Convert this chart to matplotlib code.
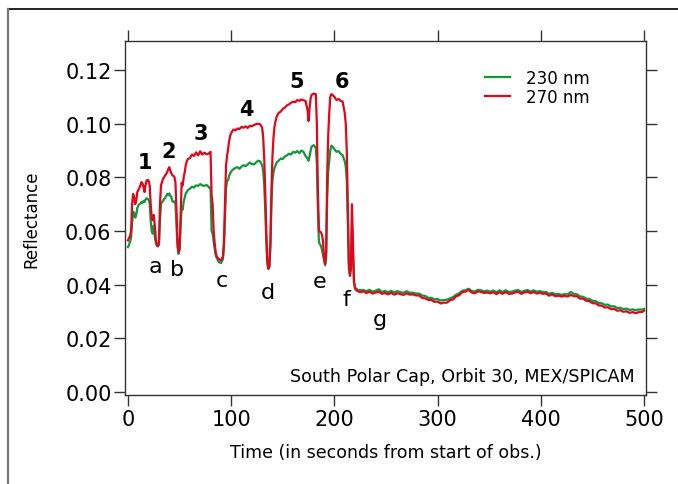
import matplotlib
matplotlib.use("Agg")
import matplotlib.pyplot as plt
from matplotlib.lines import Line2D

# Time (s) and reflectance of the two SPICAM channels
time_s = [
    0, 1, 2, 3, 4, 5, 6, 7, 8, 9, 10, 11, 12, 13, 14, 15, 16, 17, 18, 19, 20,
    21, 22, 23, 24, 25, 26, 27, 28, 29, 30, 31, 32, 33, 34, 35, 36, 37, 38, 39,
    40, 41, 42, 43, 44, 45, 46, 47, 48, 49, 50, 51, 52, 53, 54, 55, 56, 57, 58,
    60, 62, 64, 66, 68, 70, 72, 74, 76, 78, 79, 80, 81, 82, 83, 84, 85, 86, 88,
    90, 92, 93, 94, 95, 96, 97, 98, 99, 100, 102, 104, 106, 108, 110, 112, 114,
    116, 118, 120, 122, 124, 126, 128, 130, 131, 132, 133, 134, 135, 136, 137,
    138, 139, 140, 141, 142, 143, 144, 146, 148, 150, 152, 154, 156, 158, 160,
    162, 164, 166, 168, 170, 172, 174, 175, 176, 177, 178, 180, 182, 183, 184,
    185, 186, 187, 188, 189, 190, 191, 192, 193, 194, 195, 196, 197, 198, 200,
    202, 204, 206, 208, 210, 211, 212, 213, 214, 215, 216, 217, 218, 219, 220,
    222, 225, 228, 231, 234, 237, 240, 243, 246, 249, 252, 255, 258, 261, 264,
    267, 270, 273, 276, 279, 282, 285, 288, 291, 294, 297, 300, 303, 306, 309,
    312, 315, 318, 321, 324, 327, 330, 333, 336, 339, 342, 345, 348, 351, 354,
    357, 360, 363, 366, 369, 372, 375, 378, 381, 384, 387, 390, 393, 396, 399,
    402, 405, 408, 411, 414, 417, 420, 423, 426, 429, 432, 435, 438, 441, 444,
    447, 450, 453, 456, 459, 462, 465, 468, 471, 474, 477, 480, 483, 486, 489,
    492, 495, 498, 500,
]

refl_270 = [
    .0565, .0575, .0580, .0600, .0700, .0738, .0725, .0700, .0712, .0745, .0752,
    .0760, .0770, .0782, .0778, .0765, .0745, .0772, .0788, .0790, .0788,
    .0770, .0700, .0650, .0640, .0660, .0620, .0570, .0548, .0545, .0555,
    .0700, .0770, .0782, .0795, .0800, .0808, .0812, .0820, .0830,
    .0838, .0825, .0815, .0808, .0805, .0802, .0780, .0680, .0560, .0522, .0535,
    .0660, .0780, .0770, .0800, .0820, .0845, .0860, .0868,
    .0872, .0885, .0880, .0893, .0882, .0897, .0885, .0892, .0886, .0888, .0892,
    .0895, .0735, .0700, .0600, .0555, .0520, .0505, .0495,
    .0490, .0505, .0560, .0700, .0843, .0880, .0905, .0935, .0955, .0965, .0978,
    .0975, .0982, .0980, .0988, .0985, .0990,
    .0984, .0992, .0990, .0995, .0998, .1000, .0998, .0985, .0950, .0870, .0750,
    .0600, .0490, .0460, .0470,
    .0560, .0750, .0880, .0950, .0990, .1010, .1025, .1040, .1045, .1055, .1060,
    .1068, .1072, .1078, .1082,
    .1080, .1088, .1085, .1090, .1087, .1085, .1050, .1010, .1060, .1095, .1108,
    .1112, .1110, .1000, .0750,
    .0600, .0598, .0595, .0585, .0560, .0500, .0478, .0520, .0800, .0955, .1040,
    .1100, .1110, .1108, .1100,
    .1088, .1092, .1085, .1082, .1040, .1000, .0900, .0700, .0480, .0433, .0460,
    .0700, .0560, .0410, .0385,
    .0377, .0372, .0375, .0369, .0374, .0367, .0371, .0374, .0366, .0369, .0364,
    .0370, .0363, .0368, .0365,
    .0362, .0368, .0363, .0364, .0360, .0360, .0351, .0349, .0343, .0343, .0336,
    .0337, .0330, .0333, .0333,
    .0342, .0345, .0357, .0361, .0373, .0374, .0381, .0371, .0368, .0375, .0373,
    .0369, .0371, .0368, .0372,
    .0365, .0372, .0366, .0373, .0366, .0367, .0371, .0374, .0366, .0371, .0374,
    .0368, .0373, .0367, .0370,
    .0366, .0367, .0359, .0364, .0357, .0359, .0356, .0358, .0356, .0362, .0357,
    .0357, .0348, .0348, .0340,
    .0339, .0331, .0331, .0323, .0322, .0315, .0316, .0309, .0310, .0303, .0305,
    .0299, .0301, .0295, .0298,
    .0294, .0298, .0298, .0303,
]

refl_230 = [
    .0540, .0548, .0560, .0575, .0630, .0672, .0668, .0650, .0660, .0685, .0695,
    .0700, .0702, .0708, .0705, .0712, .0708, .0718, .0722, .0720, .0716,
    .0705, .0640, .0600, .0590, .0620, .0580, .0555, .0545, .0542, .0550,
    .0640, .0700, .0708, .0712, .0720, .0722, .0730, .0738, .0735,
    .0740, .0730, .0728, .0712, .0708, .0710, .0700, .0620, .0540, .0515, .0530,
    .0620, .0690, .0680, .0710, .0725, .0740, .0745, .0752,
    .0758, .0765, .0762, .0770, .0768, .0775, .0770, .0768, .0772, .0765, .0760,
    .0762, .0600, .0590, .0560, .0535, .0510, .0500, .0485,
    .0480, .0495, .0540, .0650, .0760, .0785, .0790, .0805, .0815, .0822, .0830,
    .0835, .0838, .0832, .0840, .0845, .0842,
    .0848, .0855, .0850, .0848, .0855, .0862, .0860, .0845, .0825, .0770, .0680,
    .0560, .0480, .0458, .0465,
    .0540, .0700, .0790, .0820, .0835, .0845, .0855, .0862, .0870, .0868, .0878,
    .0882, .0888, .0885, .0895,
    .0892, .0898, .0890, .0900, .0895, .0880, .0870, .0862, .0880, .0900, .0915,
    .0920, .0910, .0850, .0680,
    .0560, .0550, .0545, .0530, .0510, .0490, .0472, .0500, .0720, .0820, .0860,
    .0900, .0918, .0915, .0905,
    .0895, .0898, .0888, .0882, .0860, .0840, .0790, .0640, .0460, .0440, .0455,
    .0620, .0520, .0410, .0390,
    .0382, .0379, .0380, .0376, .0381, .0374, .0378, .0383, .0373, .0377, .0372,
    .0377, .0371, .0376, .0372,
    .0370, .0376, .0370, .0370, .0367, .0367, .0360, .0358, .0351, .0351, .0345,
    .0347, .0341, .0343, .0344,
    .0349, .0354, .0363, .0368, .0378, .0379, .0385, .0377, .0374, .0381, .0379,
    .0375, .0378, .0374, .0378,
    .0372, .0379, .0373, .0379, .0373, .0374, .0378, .0380, .0373, .0377, .0380,
    .0375, .0379, .0374, .0376,
    .0373, .0373, .0366, .0370, .0364, .0366, .0362, .0365, .0363, .0373, .0366,
    .0364, .0356, .0355, .0348,
    .0347, .0340, .0339, .0332, .0331, .0325, .0326, .0319, .0320, .0313, .0314,
    .0309, .0311, .0306, .0308,
    .0305, .0308, .0307, .0310,
]

# Bright-cap segments and dark gaps along the ground track
peak_labels = ["1", "2", "3", "4", "5", "6"]
peak_label_xy = [(16.5, .0857), (39.7, .0898), (70.7, .0965),
                 (114.3, .1054), (163.8, .1158), (207.4, .1158)]
gap_labels = ["a", "b", "c", "d", "e", "f", "g"]
gap_label_xy = [(26.2, .0469), (47.5, .0458), (91.0, .0417), (135.7, .0372),
                (186.0, .0413), (211.2, .0346), (244.2, .0272)]

x_ticks = [0, 100, 200, 300, 400, 500]
y_ticks = [0.00, 0.02, 0.04, 0.06, 0.08, 0.10, 0.12]

GREEN = "#12973a"
RED = "#e2061c"
SPINE = "#333333"

fig = plt.figure(figsize=(6.78, 4.85), dpi=100)
ax = fig.add_axes([0.1851, 0.1835, 0.7677, 0.7299])

ax.plot(time_s, refl_230, color=GREEN, lw=1.6, label="230 nm", solid_joinstyle="round")
ax.plot(time_s, refl_270, color=RED, lw=1.6, label="270 nm", solid_joinstyle="round")

ax.set_xlim(-2.4, 501.9)
ax.set_ylim(-0.0011, 0.1308)
ax.set_xticks(x_ticks)
ax.set_yticks(y_ticks)
ax.set_xticklabels([f"{v:d}" for v in x_ticks])
ax.set_yticklabels([f"{v:.2f}" for v in y_ticks])

for side in ax.spines.values():
    side.set_color(SPINE)
    side.set_linewidth(1.0)
ax.tick_params(direction="out", length=8, width=1.0, color=SPINE,
               labelsize=15, pad=2, top=True, right=True,
               labeltop=False, labelright=False)

ax.set_xlabel("Time (in seconds from start of obs.)", fontsize=12.5, labelpad=10)
ax.set_ylabel("Reflectance", fontsize=12, labelpad=18)

for txt, (tx, ty) in zip(peak_labels, peak_label_xy):
    ax.text(tx, ty, txt, fontsize=15, fontweight="bold", ha="center", va="center")
for txt, (tx, ty) in zip(gap_labels, gap_label_xy):
    ax.text(tx, ty, txt, fontsize=16, ha="center", va="center")

ax.text(0.978, 0.055, "South Polar Cap, Orbit 30, MEX/SPICAM", transform=ax.transAxes,
        ha="right", va="center", fontsize=12.6)

ax.legend(loc="upper left", bbox_to_anchor=(0.69, 0.92), frameon=False,
          fontsize=12, handlelength=1.5, handletextpad=1.0, labelspacing=0.05,
          borderpad=0, borderaxespad=0)

# Outer frame lines of the figure panel
fig.add_artist(Line2D([0.0118, 1.0], [0.979, 0.979], transform=fig.transFigure,
                      color="#111111", lw=1.3))
fig.add_artist(Line2D([0.0118, 0.0118], [0.0, 0.979], transform=fig.transFigure,
                      color="#777777", lw=1.6))

fig.savefig("out.png", dpi=100)
